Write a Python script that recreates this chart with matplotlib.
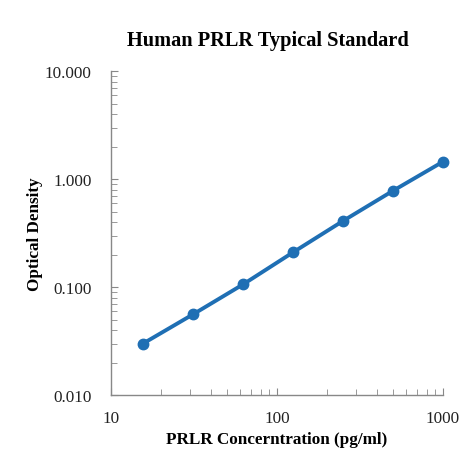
import matplotlib.pyplot as plt
from matplotlib.ticker import LogLocator, FixedLocator, NullFormatter, FixedFormatter

# standard curve data
concentration = [15.6, 31.25, 62.5, 125, 250, 500, 1000]
optical_density = [0.030, 0.056, 0.106, 0.210, 0.410, 0.780, 1.450]

x_ticks = [10, 100, 1000]
x_tick_labels = ["10", "100", "1000"]
y_ticks = [0.01, 0.1, 1, 10]
y_tick_labels = ["0.010", "0.100", "1.000", "10.000"]

plt.rcParams['font.family'] = ['Liberation Serif', 'DejaVu Serif']

fig = plt.figure(figsize=(4.71, 4.60), dpi=100)
ax = fig.add_axes([0.2357, 0.139, 0.705, 0.7043])

ax.plot(concentration, optical_density, color='#1f6fb4', linewidth=2.8,
        marker='o', markersize=7.5, zorder=3, clip_on=False)

ax.set_xscale('log')
ax.set_yscale('log')
ax.set_xlim(10, 1000)
ax.set_ylim(0.01, 10)

ax.xaxis.set_major_locator(FixedLocator(x_ticks))
ax.xaxis.set_major_formatter(FixedFormatter(x_tick_labels))
ax.yaxis.set_major_locator(FixedLocator(y_ticks))
ax.yaxis.set_major_formatter(FixedFormatter(y_tick_labels))
ax.xaxis.set_minor_locator(LogLocator(base=10, subs=range(2, 10)))
ax.yaxis.set_minor_locator(LogLocator(base=10, subs=range(2, 10)))
ax.xaxis.set_minor_formatter(NullFormatter())
ax.yaxis.set_minor_formatter(NullFormatter())

for side in ['top', 'right']:
    ax.spines[side].set_visible(False)
for side in ['left', 'bottom']:
    ax.spines[side].set_color('#888888')
    ax.spines[side].set_linewidth(1.0)

ax.tick_params(which='both', direction='in', color='#888888', labelsize=12.3, labelcolor='#222222')
ax.tick_params(which='major', length=5)
ax.tick_params(which='minor', length=4)
ax.tick_params(axis='x', which='major', pad=11)
ax.tick_params(axis='y', which='major', pad=14)

fig.text(0.569, 0.9, "Human PRLR Typical Standard", fontsize=14.7, fontweight='bold',
         ha='center', va='baseline')
ax.set_xlabel("PRLR Concerntration (pg/ml)", fontsize=12.3, fontweight='bold', labelpad=3)
ax.set_ylabel("Optical Density", fontsize=12.3, fontweight='bold', labelpad=1)

fig.savefig("out.png", dpi=100)
